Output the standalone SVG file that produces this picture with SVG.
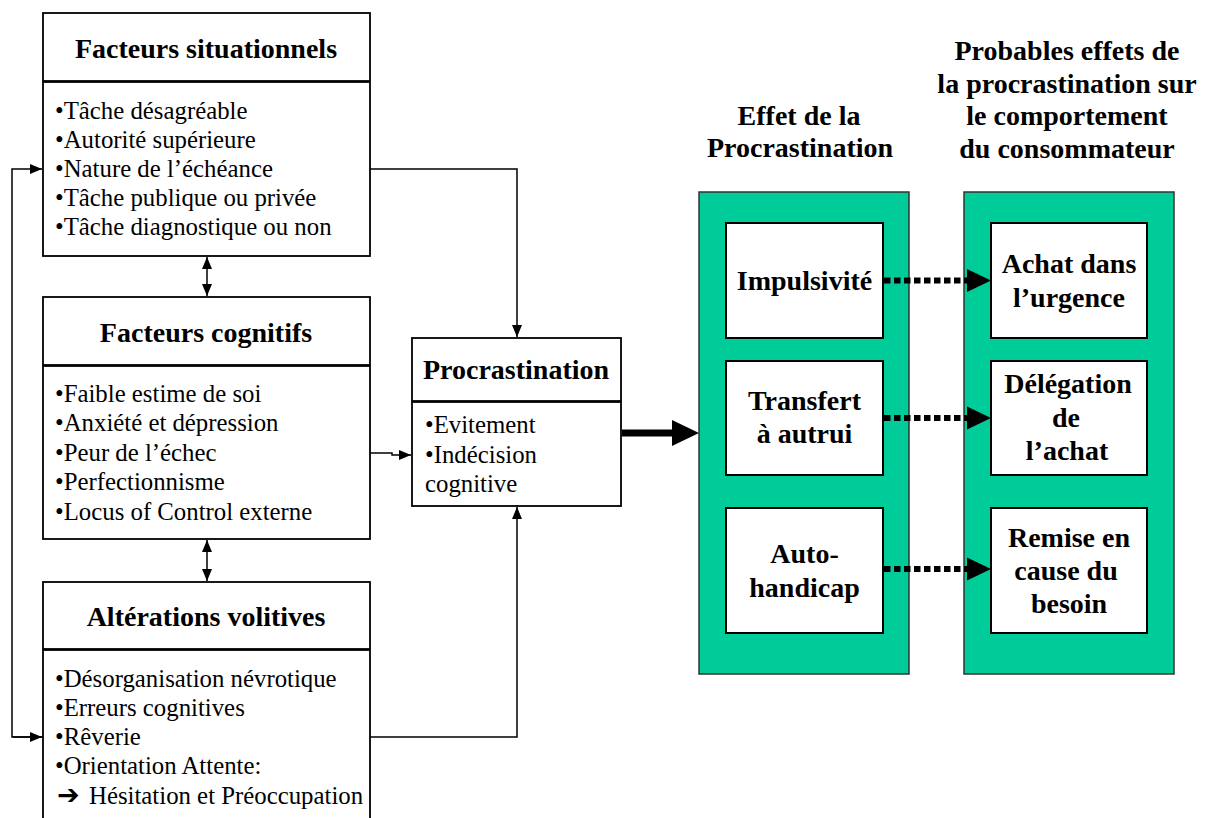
<svg xmlns="http://www.w3.org/2000/svg" width="1208" height="818" viewBox="0 0 1208 818">
<style>
.box{fill:#fff;stroke:#000;stroke-width:1.8}
.panel{fill:#00CC99;stroke:#333;stroke-width:1.5}
.ibox{fill:#fff;stroke:#000;stroke-width:2}
.t{font-family:"Liberation Serif","Times New Roman",serif;font-weight:bold;font-size:28px;fill:#000;text-anchor:middle}
.b{font-family:"Liberation Serif","Times New Roman",serif;font-size:24.8px;fill:#000}
.ln{fill:none;stroke:#000;stroke-width:1.5}
.dot{fill:none;stroke:#000;stroke-width:6;stroke-dasharray:6.5 3.5}
</style>
<defs>
<marker id="ah" markerUnits="userSpaceOnUse" markerWidth="12" markerHeight="12" refX="12" refY="6" orient="auto-start-reverse" viewBox="0 0 12 12">
<path d="M0,1 L12,6 L0,11 z" fill="#000"/>
</marker>
</defs>
<rect width="1208" height="818" fill="#fff"/>

<g id="headers">
<text class="t" x="799" y="125">Effet de la</text>
<text class="t" x="800" y="157">Procrastination</text>
<text class="t" x="1067" y="60">Probables effets de</text>
<text class="t" x="1067" y="92.5">la procrastination sur</text>
<text class="t" x="1067" y="125">le comportement</text>
<text class="t" x="1067" y="157.5">du consommateur</text>
</g>

<g id="situationnels">
<rect class="box" x="43" y="13" width="327" height="68"/>
<rect class="box" x="43" y="82" width="327" height="174"/>
<text class="t" x="206" y="58">Facteurs situationnels</text>
<text class="b" x="55" y="119">•Tâche désagréable</text>
<text class="b" x="55" y="148">•Autorité supérieure</text>
<text class="b" x="55" y="177">•Nature de l’échéance</text>
<text class="b" x="55" y="206">•Tâche publique ou privée</text>
<text class="b" x="55" y="235">•Tâche diagnostique ou non</text>
</g>

<g id="cognitifs">
<rect class="box" x="43" y="297" width="327" height="68"/>
<rect class="box" x="43" y="366" width="327" height="173"/>
<text class="t" x="206" y="342">Facteurs cognitifs</text>
<text class="b" x="55" y="402">•Faible estime de soi</text>
<text class="b" x="55" y="431">•Anxiété et dépression</text>
<text class="b" x="55" y="461">•Peur de l’échec</text>
<text class="b" x="55" y="490">•Perfectionnisme</text>
<text class="b" x="55" y="520">•Locus of Control externe</text>
</g>

<g id="volitives">
<rect class="box" x="43" y="582" width="327" height="67"/>
<rect class="box" x="43" y="650" width="327" height="190"/>
<text class="t" x="206" y="626">Altérations volitives</text>
<text class="b" x="55" y="687">•Désorganisation névrotique</text>
<text class="b" x="55" y="716">•Erreurs cognitives</text>
<text class="b" x="55" y="745">•Rêverie</text>
<text class="b" x="55" y="774">•Orientation Attente:</text>
<text class="b" x="57" y="804"><tspan font-family="DejaVu Sans, sans-serif" font-size="27" font-weight="bold">➔</tspan><tspan x="89">Hésitation et Préoccupation</tspan></text>
</g>

<g id="procrastination">
<rect class="box" x="412" y="338" width="209" height="63"/>
<rect class="box" x="412" y="402" width="209" height="104"/>
<text class="t" x="516" y="379">Procrastination</text>
<text class="b" x="425" y="433">•Evitement</text>
<text class="b" x="425" y="463">•Indécision</text>
<text class="b" x="425" y="492">cognitive</text>
</g>

<g id="panel-effet">
<rect class="panel" x="699" y="192" width="210" height="482"/>
</g>
<g id="panel-comportement">
<rect class="panel" x="964" y="192" width="210" height="482"/>
</g>

<g id="impulsivite">
<rect class="ibox" x="726" y="223" width="157" height="115"/>
<text class="t" x="804.5" y="290">Impulsivité</text>
</g>
<g id="transfert">
<rect class="ibox" x="726" y="361" width="157" height="114"/>
<text class="t" x="804.5" y="410">Transfert</text>
<text class="t" x="804.5" y="443">à autrui</text>
</g>
<g id="autohandicap">
<rect class="ibox" x="726" y="508" width="157" height="125"/>
<text class="t" x="804.5" y="563">Auto-</text>
<text class="t" x="804.5" y="597">handicap</text>
</g>
<g id="achat-urgence">
<rect class="ibox" x="991" y="223" width="156" height="115"/>
<text class="t" x="1069" y="273">Achat dans</text>
<text class="t" x="1069" y="307">l’urgence</text>
</g>
<g id="delegation">
<rect class="ibox" x="991" y="361" width="156" height="114"/>
<text class="t" x="1068" y="393">Délégation</text>
<text class="t" x="1066" y="427">de</text>
<text class="t" x="1067" y="460">l’achat</text>
</g>
<g id="remise">
<rect class="ibox" x="991" y="508" width="156" height="125"/>
<text class="t" x="1069" y="547">Remise en</text>
<text class="t" x="1066" y="580">cause du</text>
<text class="t" x="1069" y="613">besoin</text>
</g>

<g id="connectors">
<line class="ln" x1="207" y1="257" x2="207" y2="296" marker-start="url(#ah)" marker-end="url(#ah)"/>
<line class="ln" x1="207" y1="540" x2="207" y2="581" marker-start="url(#ah)" marker-end="url(#ah)"/>
<polyline class="ln" points="43,737 12,737 12,169 42,169" marker-end="url(#ah)"/>
<line class="ln" x1="13" y1="737" x2="42" y2="737" marker-end="url(#ah)"/>
<polyline class="ln" points="370,169 517,169 517,337" marker-end="url(#ah)"/>
<polyline class="ln" points="370,737 517,737 517,507" marker-end="url(#ah)"/>
<polyline class="ln" points="370,453 392,453 392,455 411,455" marker-end="url(#ah)"/>
<line x1="622" y1="433" x2="675" y2="433" stroke="#000" stroke-width="7"/>
<polygon points="672,420 699,433 672,446" fill="#000"/>
<line class="dot" x1="884" y1="280.5" x2="968" y2="280.5"/>
<polygon points="967,269 991,280.5 967,292" fill="#000"/>
<line class="dot" x1="884" y1="418" x2="968" y2="418"/>
<polygon points="967,406.5 991,418 967,429.5" fill="#000"/>
<line class="dot" x1="884" y1="569" x2="968" y2="569"/>
<polygon points="967,557.5 991,569 967,580.5" fill="#000"/>
</g>
</svg>
